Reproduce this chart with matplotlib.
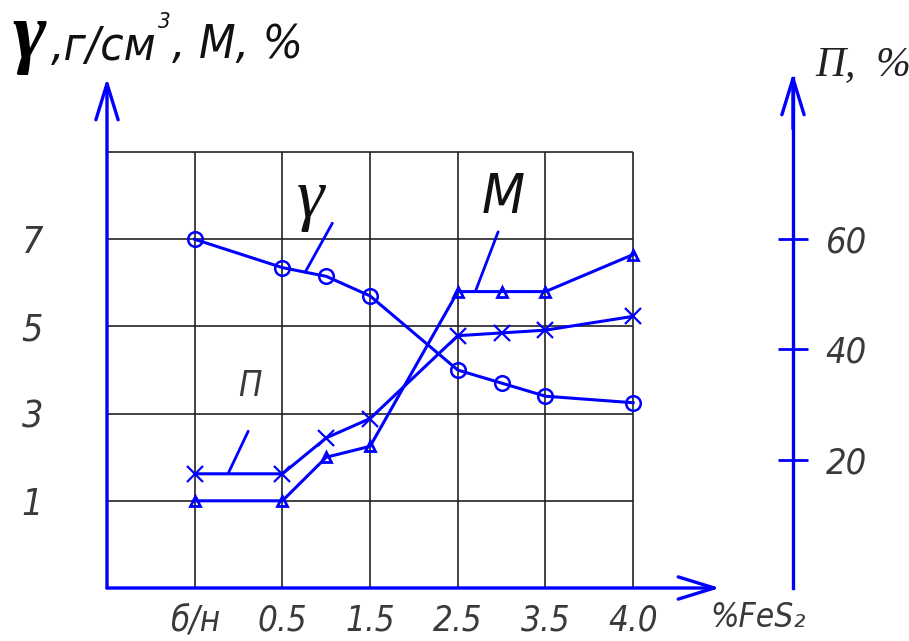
import numpy as np
import matplotlib
matplotlib.use('Agg')
import matplotlib.pyplot as plt
from matplotlib.transforms import offset_copy

# FeS2 content: categories on the x axis (extra points at 1.0 and 3.0 sit between grid lines)
x_labels = ['б/н', '0.5', '1.5', '2.5', '3.5', '4.0']
x_ticks  = [1, 2, 3, 4, 5, 6]
x_pos    = [1, 2, 2.5, 3, 4, 4.5, 5, 6]

gamma = [7.0, 6.35, 6.15, 5.7, 4.0, 3.7, 3.4, 3.25]    # density, g/cm3
M     = [1.0, 1.0, 2.0, 2.25, 5.8, 5.8, 5.8, 6.65]     # M, %
P     = [17.5, 17.5, 24, 27.5, 42.5, 43, 43.5, 46]     # porosity P, %

left_ticks  = [1, 3, 5, 7]
right_ticks = [20, 40, 60]

BLUE = '#0000ff'
GRAY = '#3a3a3a'
GOST = dict(fontfamily=['DejaVu Sans'], style='italic', stretch='condensed')
SERIF = ['Liberation Serif', 'DejaVu Serif']

fig = plt.figure(figsize=(9.09, 6.41), dpi=100)
ax = fig.add_axes([107 / 909, 53 / 641, 613 / 909, 510 / 641])
ax.set_xlim(0, 6.99)
ax.set_ylim(-1, 10.7)
for s in ax.spines.values():
    s.set_visible(False)

# grid of the drawing field
ax.vlines(x_ticks, -1, 9, color='#222222', lw=1.2, zorder=1)
ax.hlines([1, 3, 5, 7, 9], 0, 6, color='#222222', lw=1.2, zorder=1)

# axes with open arrowheads
arrow = dict(arrowstyle='->, head_length=2.6, head_width=0.8', color=BLUE,
             lw=2.4, mutation_scale=10, shrinkA=0, shrinkB=0)
ax.annotate('', xy=(6.99, -1), xytext=(0, -1), arrowprops=arrow, annotation_clip=False)
ax.annotate('', xy=(0, 10.7), xytext=(0, -1), arrowprops=arrow, annotation_clip=False)

ax.set_xticks(x_ticks)
ax.set_xticklabels(x_labels)
ax.set_yticks(left_ticks)
ax.tick_params(axis='x', length=0, pad=11, labelsize=25, labelcolor=GRAY)
ax.tick_params(axis='y', length=0, pad=46, labelsize=27, labelcolor=GRAY)
for lab in ax.get_xticklabels() + ax.get_yticklabels():
    lab.set(**GOST)

# density and M on the left scale
ax.plot(x_pos, gamma, color=BLUE, lw=2.2, marker='o', ms=10.5, mfc='none', mew=1.8, zorder=3)
ax.plot(x_pos, M, color=BLUE, lw=2.2, marker='^', ms=6.5, mfc='none', mew=2, zorder=3)

# porosity on the right scale
ax2 = ax.twinx()
ax2.set_ylim(-3.17, 89.14)
for k in ['top', 'bottom', 'left']:
    ax2.spines[k].set_visible(False)
rpos = 686 / 613
ax2.spines['right'].set_position(('axes', rpos))
ax2.spines['right'].set_color(BLUE)
ax2.spines['right'].set_linewidth(2.4)
ax2.annotate('', xy=(rpos, 1.01), xytext=(rpos, 0.9), xycoords='axes fraction',
             arrowprops=arrow, annotation_clip=False)
ax2.set_yticks(right_ticks)
ax2.tick_params(axis='y', direction='inout', length=21, width=2, color=BLUE,
                pad=13, labelsize=26, labelcolor=GRAY)
for lab in ax2.get_yticklabels():
    lab.set(**GOST)
ax2.plot(x_pos, P, color=BLUE, lw=2.2, marker='x', ms=12, mew=1.6, zorder=3)

# curve labels with leader lines
lead = dict(arrowstyle='-', color=BLUE, lw=2, shrinkA=0, shrinkB=0)
gx = 2.26
ax.annotate('', xy=(gx, np.interp(gx, x_pos, gamma)), xytext=(2.57, 7.37), arrowprops=lead)
ax.text(2.32, 7.9, 'γ', fontfamily=SERIF, style='italic', fontsize=50,
        ha='center', va='center', color='#111111')
mx = 4.2
ax.annotate('', xy=(mx, np.interp(mx, x_pos, M)), xytext=(4.46, 7.17), arrowprops=lead)
ax.text(4.52, 7.95, 'М', fontsize=40, ha='center', va='center', color='#111111', **GOST)
px = 1.38
ax2.annotate('', xy=(px, np.interp(px, x_pos, P)), xytext=(1.61, 25.2), arrowprops=lead)
ax.text(1.63, 3.63, 'П', fontsize=25, ha='center', va='center', color=GRAY, **GOST)

ax.text(6.88, -1.67, '%FeS₂', fontsize=24, ha='left', va='center', color=GRAY,
        clip_on=False, **GOST)

# caption of the left scale, pieces laid out one after another
renderer = fig.canvas.get_renderer()


def after(t, dx=0, dy=0):
    bb = t.get_window_extent(renderer)
    return offset_copy(fig.transFigure, fig=fig, x=dx * 72 / fig.dpi, y=dy * 72 / fig.dpi,
                       units='points'), bb.x1 / fig.bbox.width


t = fig.text(13 / 909, 1 - 58 / 641, 'γ', fontfamily=SERIF, style='italic', weight='bold',
             fontsize=58, ha='left', va='baseline', color='black')
tr, x1 = after(t, dx=4)
t = fig.text(x1, 1 - 60 / 641, ',г/см', fontsize=34, ha='left', va='baseline',
             color='#111111', transform=tr, **GOST)
tr, x1 = after(t, dx=2, dy=32)
t = fig.text(x1, 1 - 60 / 641, '3', fontsize=16, ha='left', va='baseline',
             color='#111111', transform=tr, **GOST)
tr, x1 = after(t, dx=1)
fig.text(x1, 1 - 58 / 641, ', М, %', fontsize=34, ha='left', va='baseline',
         color='#111111', transform=tr, **GOST)

fig.text(815 / 909, 1 - 75 / 641, 'П,  %', fontfamily=SERIF, style='italic',
         fontsize=30, ha='left', va='baseline', color='#222222')

fig.savefig('out.png', dpi=100)
